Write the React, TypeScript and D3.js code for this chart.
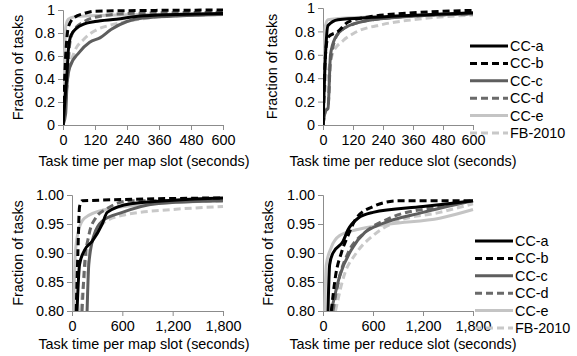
import React, { useRef, useEffect } from 'react';
import * as d3 from 'd3';

type Pt = [number, number];

// series names + styles
const seriesNames = ['CC-a', 'CC-b', 'CC-c', 'CC-d', 'CC-e', 'FB-2010'];
const seriesColors = ['#000000', '#000000', '#5e5e5e', '#6a6a6a', '#c4c4c4', '#c8c8c8'];
const seriesDashed = [false, true, false, true, false, true];

// top-left: map slot, 0-600 s
const mapShort: Pt[][] = [
    [[0, 0], [10, 0.3], [15, 0.45], [20, 0.65], [30, 0.78], [50, 0.84], [80, 0.88], [120, 0.9], [200, 0.92], [300, 0.95], [600, 0.97]],
    [[0, 0], [10, 0.6], [20, 0.85], [40, 0.93], [80, 0.97], [120, 0.99], [600, 1.0]],
    [[0, 0], [10, 0.1], [15, 0.35], [25, 0.5], [60, 0.63], [100, 0.72], [140, 0.76], [180, 0.83], [240, 0.9], [300, 0.93], [600, 0.96]],
    [[0, 0], [15, 0.35], [25, 0.7], [40, 0.82], [80, 0.9], [150, 0.95], [250, 0.97], [600, 0.98]],
    [[0, 0], [5, 0.5], [10, 0.85], [20, 0.92], [40, 0.94], [100, 0.95], [600, 0.97]],
    [[0, 0], [10, 0.25], [20, 0.45], [40, 0.62], [80, 0.75], [120, 0.82], [180, 0.87], [240, 0.9], [360, 0.94], [600, 0.96]],
];

// top-right: reduce slot, 0-600 s
const reduceShort: Pt[][] = [
    [[0, 0], [10, 0.6], [20, 0.85], [60, 0.9], [200, 0.92], [600, 0.96]],
    [[0, 0], [10, 0.6], [20, 0.75], [60, 0.8], [100, 0.88], [200, 0.93], [300, 0.95], [600, 0.98]],
    [[0, 0], [10, 0.12], [20, 0.14], [30, 0.6], [50, 0.75], [80, 0.82], [150, 0.88], [300, 0.92], [600, 0.95]],
    [[0, 0], [10, 0.12], [20, 0.15], [30, 0.55], [60, 0.78], [120, 0.86], [240, 0.91], [600, 0.95]],
    [[0, 0], [5, 0.6], [10, 0.85], [20, 0.9], [60, 0.91], [300, 0.93], [600, 0.95]],
    [[0, 0], [10, 0.35], [20, 0.45], [40, 0.62], [80, 0.72], [120, 0.78], [240, 0.86], [360, 0.9], [600, 0.94]],
];

// bottom-left: map slot tail, 0-1800 s
const mapLong: Pt[][] = [
    [[60, 0.8], [90, 0.88], [150, 0.905], [240, 0.92], [360, 0.95], [420, 0.97], [700, 0.985], [1800, 0.995]],
    [[50, 0.8], [70, 0.9], [90, 0.98], [120, 0.99], [1800, 0.995]],
    [[180, 0.8], [200, 0.88], [260, 0.93], [360, 0.955], [600, 0.97], [1000, 0.985], [1800, 0.99]],
    [[120, 0.8], [150, 0.88], [200, 0.93], [280, 0.96], [400, 0.975], [700, 0.99], [1800, 0.99]],
    [[20, 0.8], [40, 0.9], [80, 0.94], [150, 0.96], [400, 0.975], [1000, 0.985], [1800, 0.99]],
    [[100, 0.8], [160, 0.87], [240, 0.92], [360, 0.95], [600, 0.965], [1200, 0.975], [1800, 0.98]],
];

// bottom-right: reduce slot tail, 0-1800 s
const reduceLong: Pt[][] = [
    [[60, 0.8], [80, 0.88], [120, 0.9], [240, 0.92], [300, 0.94], [420, 0.96], [600, 0.97], [1200, 0.98], [1800, 0.99]],
    [[100, 0.8], [150, 0.86], [220, 0.9], [300, 0.93], [400, 0.96], [600, 0.98], [900, 0.99], [1800, 0.99]],
    [[100, 0.8], [200, 0.86], [360, 0.91], [500, 0.935], [700, 0.95], [1200, 0.97], [1800, 0.99]],
    [[120, 0.8], [200, 0.86], [300, 0.9], [500, 0.935], [800, 0.96], [1400, 0.98], [1800, 0.99]],
    [[20, 0.8], [40, 0.88], [100, 0.91], [200, 0.93], [400, 0.94], [800, 0.95], [1400, 0.96], [1800, 0.975]],
    [[150, 0.8], [250, 0.86], [400, 0.9], [600, 0.93], [900, 0.955], [1400, 0.97], [1800, 0.985]],
];

const shortXTicks = [0, 120, 240, 360, 480, 600];
const shortYTicks = [0, 0.2, 0.4, 0.6, 0.8, 1];
const longXTicks = [0, 600, 1200, 1800];
const longYTicks = [0.8, 0.85, 0.9, 0.95, 1.0];

const App = () => {
    const svgRef = useRef(null);

    useEffect(() => {
        const svg = d3.select(svgRef.current);
        svg.selectAll('*').remove();
        const font = 'Liberation Sans, Arial, sans-serif';

        const panels = [
            { id: 'p1', data: mapShort, x0: 63, x1: 223, yb: 125, yt: 10, xd: [0, 600], yd: [0, 1], xt: shortXTicks, yt2: shortYTicks,
              yfmt: (d: number) => String(d), title: 'Task time per map slot (seconds)', tx: 144, titleY: 166, ytx: 18 },
            { id: 'p2', data: reduceShort, x0: 323, x1: 473, yb: 125, yt: 8, xd: [0, 600], yd: [0, 1], xt: shortXTicks, yt2: shortYTicks,
              yfmt: (d: number) => String(d), title: 'Task time per reduce slot (seconds)', tx: 403, titleY: 166, ytx: 272 },
            { id: 'p3', data: mapLong, x0: 72, x1: 223, yb: 311, yt: 195, xd: [0, 1800], yd: [0.8, 1], xt: longXTicks, yt2: longYTicks,
              yfmt: d3.format('.2f'), title: 'Task time per map slot (seconds)', tx: 144, titleY: 349, ytx: 18 },
            { id: 'p4', data: reduceLong, x0: 323, x1: 473, yb: 311, yt: 195, xd: [0, 1800], yd: [0.8, 1], xt: longXTicks, yt2: longYTicks,
              yfmt: d3.format('.2f'), title: 'Task time per reduce slot (seconds)', tx: 403, titleY: 349, ytx: 268 },
        ];

        panels.forEach(p => {
            const x = d3.scaleLinear().domain(p.xd).range([p.x0, p.x1]);
            const y = d3.scaleLinear().domain(p.yd).range([p.yb, p.yt]);
            const g = svg.append('g');

            g.append('clipPath').attr('id', 'clip-' + p.id)
                .append('rect').attr('x', p.x0).attr('y', p.yt - 4)
                .attr('width', p.x1 - p.x0 + 6).attr('height', p.yb - p.yt + 4);

            // axes
            const xAxis = g.append('g').attr('transform', `translate(0,${p.yb})`)
                .call(d3.axisBottom(x).tickValues(p.xt).tickSize(5).tickSizeOuter(5).tickFormat(d3.format(',')));
            const yAxis = g.append('g').attr('transform', `translate(${p.x0},0)`)
                .call(d3.axisLeft(y).tickValues(p.yt2).tickSize(5).tickSizeOuter(5).tickFormat(p.yfmt as any));
            [xAxis, yAxis].forEach(a => {
                a.selectAll('path, line').attr('stroke', '#8c8c8c');
                a.selectAll('text').attr('fill', '#000').style('font-family', font).style('font-size', '14.4px');
            });
            xAxis.selectAll('text').attr('y', 10);

            // curves
            const line = d3.line<Pt>().x(d => x(d[0])).y(d => y(d[1])).curve(d3.curveMonotoneX);
            const order = [5, 4, 3, 2, 0, 1];
            order.forEach(i => {
                g.append('path')
                    .attr('clip-path', `url(#clip-${p.id})`)
                    .attr('d', line(p.data[i]))
                    .attr('fill', 'none')
                    .attr('stroke', seriesColors[i])
                    .attr('stroke-width', 3)
                    .attr('stroke-dasharray', seriesDashed[i] ? '7,4' : null);
            });

            // titles
            g.append('text').attr('x', p.tx).attr('y', p.titleY)
                .attr('text-anchor', 'middle').style('font-family', font).style('font-size', '14.4px')
                .text(p.title);
            g.append('text')
                .attr('transform', `translate(${p.ytx},${(p.yb + p.yt) / 2}) rotate(-90)`)
                .attr('text-anchor', 'middle').attr('dy', '0.35em')
                .style('font-family', font).style('font-size', '14.4px')
                .text('Fraction of tasks');
        });

        // legends
        const legends = [{ lx: 470, ly: 46 }, { lx: 475, ly: 241 }];
        legends.forEach(l => {
            const step = d3.scaleLinear().domain([0, 5]).range([l.ly, l.ly + 87]);
            seriesNames.forEach((name, i) => {
                svg.append('line')
                    .attr('x1', l.lx).attr('x2', l.lx + 38)
                    .attr('y1', step(i)).attr('y2', step(i))
                    .attr('stroke', seriesColors[i]).attr('stroke-width', 3)
                    .attr('stroke-dasharray', seriesDashed[i] ? '7,4' : null);
                svg.append('text')
                    .attr('x', l.lx + 40).attr('y', step(i)).attr('dy', '0.35em')
                    .style('font-family', font).style('font-size', '14.4px')
                    .text(name);
            });
        });
    }, []);

    return <svg ref={svgRef} width={577} height={356} style={{ position: 'absolute', left: 0, top: 0, background: '#fff' }} />;
};

export default App;
